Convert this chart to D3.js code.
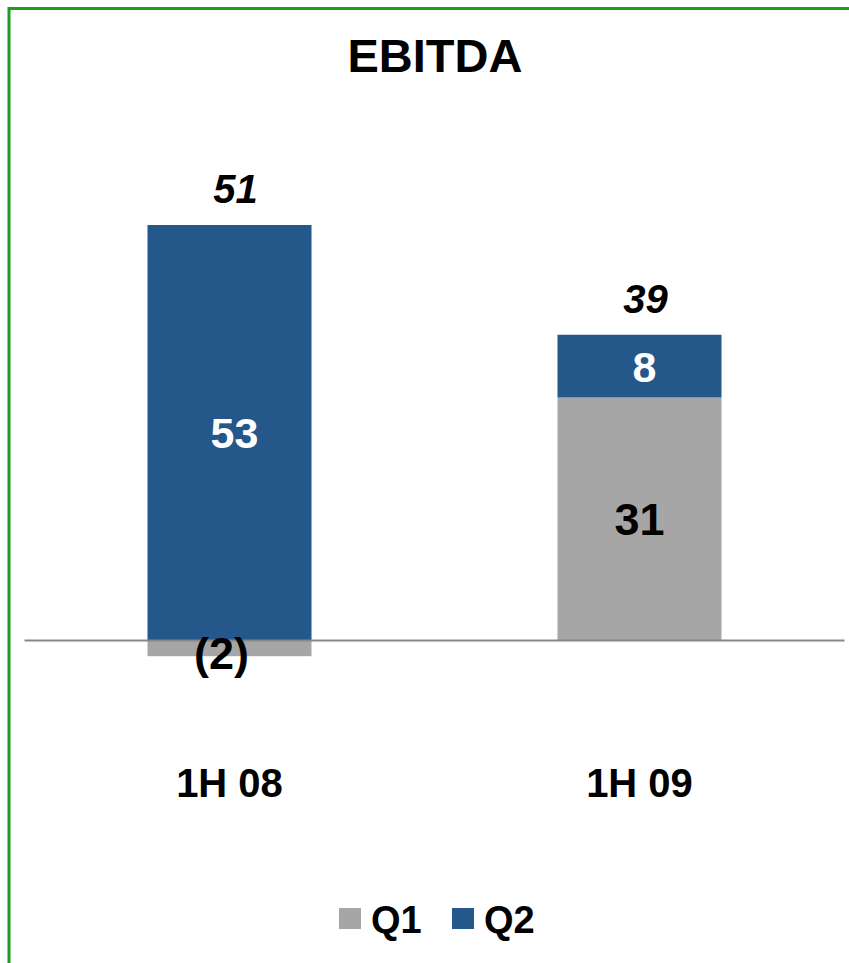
<!DOCTYPE html>
<html>
<head>
<meta charset="utf-8">
<script src="https://cdn.jsdelivr.net/npm/d3@7"></script>
<style>
  html, body { margin: 0; padding: 0; background: #fff; }
  text { font-family: Arial, 'Liberation Sans', Helvetica, sans-serif; font-weight: bold; }
</style>
</head>
<body>
<script>
const categories = ['1H 08', '1H 09'];
const seriesKeys = ['Q1', 'Q2'];
const q1Values = [-2, 31];
const q2Values = [53, 8];
const totals = [51, 39];

const chartWidth = 849;
const chartHeight = 963;

const colours = { Q1: '#a6a6a6', Q2: '#24578a' };
const labelColours = { Q1: '#000', Q2: '#fff' };
const labelSizes = { Q1: 45, Q2: 43 };

const rows = categories.map((c, i) => ({ cat: c, Q1: q1Values[i], Q2: q2Values[i], total: totals[i] }));

const svg = d3.select('body').append('svg')
  .attr('width', chartWidth)
  .attr('height', chartHeight);

// frame
svg.append('rect')
  .attr('x', 9)
  .attr('y', 8.5)
  .attr('width', 900)
  .attr('height', 1000)
  .attr('fill', 'none')
  .attr('stroke', '#1f9b1f')
  .attr('stroke-width', 3);

svg.append('text')
  .attr('x', 435)
  .attr('y', 72)
  .attr('text-anchor', 'middle')
  .attr('font-size', 47)
  .text('EBITDA');

const xScale = d3.scaleBand()
  .domain(categories)
  .range([24.5, 844.5])
  .paddingInner(0.6)
  .paddingOuter(0.3);

const yScale = d3.scaleLinear()
  .domain([-2, 53])
  .range([656.2, 225]);

const stacked = d3.stack()
  .keys(seriesKeys)
  .offset(d3.stackOffsetDiverging)(rows);

// bars
const layers = svg.append('g').selectAll('g')
  .data(stacked)
  .enter().append('g')
    .attr('fill', d => colours[d.key]);

layers.selectAll('rect')
  .data(d => d)
  .enter().append('rect')
    .attr('x', d => xScale(d.data.cat))
    .attr('width', xScale.bandwidth())
    .attr('y', d => yScale(d[1]))
    .attr('height', d => yScale(d[0]) - yScale(d[1]));

// zero line
svg.append('line')
  .attr('x1', xScale.range()[0])
  .attr('x2', xScale.range()[1])
  .attr('y1', yScale(0))
  .attr('y2', yScale(0))
  .attr('stroke', '#888')
  .attr('stroke-width', 2);

// segment labels
stacked.forEach(layer => {
  svg.append('g').selectAll('text')
    .data(layer)
    .enter().append('text')
      .attr('x', d => {
        const c = xScale(d.data.cat) + xScale.bandwidth() / 2;
        if (d.data[layer.key] < 0) return c - 8;
        return layer.key === 'Q2' ? c + 5 : c;
      })
      .attr('y', d => {
        const mid = (yScale(d[0]) + yScale(d[1])) / 2;
        return d.data[layer.key] < 0 ? mid + 21 : mid + labelSizes[layer.key] * 0.36;
      })
      .attr('text-anchor', 'middle')
      .attr('font-size', labelSizes[layer.key])
      .attr('fill', labelColours[layer.key])
      .text(d => {
        const v = d.data[layer.key];
        return v < 0 ? `(${-v})` : v;
      });
});

// totals
svg.append('g').selectAll('text')
  .data(rows)
  .enter().append('text')
    .attr('x', d => xScale(d.cat) + xScale.bandwidth() / 2 + 6)
    .attr('y', d => yScale(Math.max(d.Q1, 0) + Math.max(d.Q2, 0)) - 22)
    .attr('text-anchor', 'middle')
    .attr('font-size', 40)
    .attr('font-style', 'italic')
    .text(d => d.total);

// category axis labels
svg.append('g').selectAll('text')
  .data(categories)
  .enter().append('text')
    .attr('x', d => xScale(d) + xScale.bandwidth() / 2)
    .attr('y', 797)
    .attr('text-anchor', 'middle')
    .attr('font-size', 40)
    .text(d => d);

// legend
const legend = svg.append('g')
  .selectAll('g')
  .data(seriesKeys)
  .enter().append('g')
    .attr('transform', (d, i) => `translate(${339 + i * 113},908)`);

legend.append('rect')
  .attr('width', 22)
  .attr('height', 21)
  .attr('fill', d => colours[d]);

legend.append('text')
  .attr('x', 32)
  .attr('y', 25)
  .attr('font-size', 38)
  .text(d => d);
</script>
</body>
</html>
